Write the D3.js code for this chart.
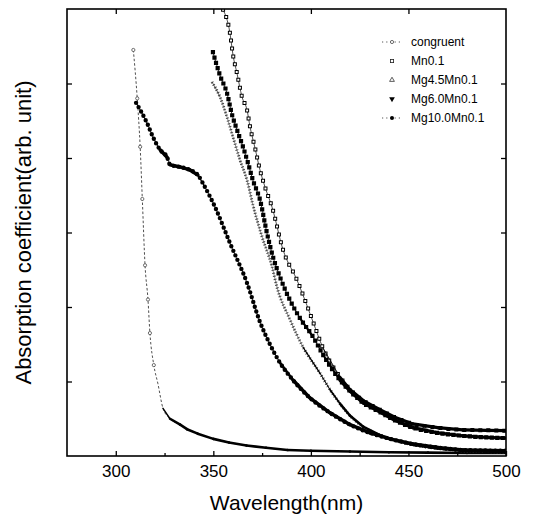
<!DOCTYPE html>
<html>
<head>
<meta charset="utf-8">
<script src="https://cdn.jsdelivr.net/npm/d3@7/dist/d3.min.js"></script>
<style>
  body { margin: 0; background: #fff; }
  svg { display: block; }
  text { font-family: "Liberation Sans", Arial, Helvetica, sans-serif; fill: #000; }
</style>
</head>
<body>
<svg id="chart" width="533" height="516"></svg>
<script>
// Absorption spectra: [wavelength (nm), absorption coefficient (arb. unit)]
const congruent = [
  [309, 5.45], [311, 4.80], [312.5, 4.15], [313.6, 3.45], [315, 2.56], [316.5, 2.10],
  [317.5, 1.65], [319.5, 1.22], [321.6, 0.97], [324.2, 0.64], [327.8, 0.50], [333, 0.42],
  [336.5, 0.36], [342, 0.30], [350, 0.23], [358, 0.18], [367, 0.14], [377, 0.11],
  [388, 0.08], [400, 0.07], [420, 0.06], [440, 0.05], [460, 0.045], [480, 0.04], [500, 0.04]
];
const mn01 = [
  [355.0, 5.99], [358.5, 5.68], [360.1, 5.38], [362.1, 5.14], [364.7, 4.82], [367.3, 4.64],
  [368.8, 4.42], [371.4, 4.13], [373.9, 3.84], [376.5, 3.61], [380.1, 3.34], [385.7, 2.77],
  [392.9, 2.36], [398.0, 2.02], [401.1, 1.80], [406.2, 1.45], [414.9, 1.06], [420.1, 0.89],
  [427, 0.74], [435.4, 0.62], [443, 0.52], [452.3, 0.43], [465, 0.38], [477.9, 0.35],
  [490, 0.345], [500, 0.34]
];
const mg45mn01 = [
  [349.3, 5.02], [353.4, 4.82], [357.0, 4.55], [360.1, 4.28], [363.7, 3.97], [367.3, 3.70],
  [370.3, 3.37], [375.0, 2.94], [380.1, 2.54], [382.6, 2.27], [389.3, 1.83], [396.0, 1.46],
  [404.7, 1.11], [409.8, 0.89], [415, 0.70], [420.1, 0.54], [427, 0.39], [435.4, 0.28],
  [443, 0.21], [452.3, 0.15], [465, 0.10], [477.9, 0.07], [490, 0.06], [500, 0.05]
];
const mg60mn01 = [
  [349.8, 5.42], [353.4, 5.11], [357.0, 4.87], [359.6, 4.58], [362.1, 4.38], [365.2, 4.15],
  [367.8, 3.93], [370.3, 3.70], [373.9, 3.44], [377.5, 2.99], [380.6, 2.67], [384.2, 2.40],
  [389.3, 2.09], [394.4, 1.85], [401.1, 1.60], [406.2, 1.36], [414.9, 1.02], [420.1, 0.87],
  [427, 0.71], [435.4, 0.59], [443, 0.48], [452.3, 0.38], [465, 0.31], [477.9, 0.27],
  [490, 0.25], [500, 0.24]
];
const mg100mn01 = [
  [310.4, 4.74], [316.0, 4.47], [319.1, 4.28], [322.7, 4.11], [326.3, 4.01], [327.8, 3.91],
  [332.9, 3.88], [338.0, 3.84], [342.1, 3.77], [345.7, 3.61], [350.9, 3.34], [358.5, 2.86],
  [367.3, 2.32], [373.9, 1.80], [379.0, 1.50], [384.2, 1.25], [390.8, 1.02], [399.5, 0.78],
  [409.8, 0.58], [420.1, 0.42], [430.3, 0.31], [440.6, 0.23], [452.3, 0.16], [466.2, 0.11],
  [477.9, 0.08], [500, 0.07]
];

const seriesNames = ["congruent", "Mn0.1", "Mg4.5Mn0.1", "Mg6.0Mn0.1", "Mg10.0Mn0.1"];
const seriesData = [congruent, mn01, mg45mn01, mg60mn01, mg100mn01];

const xTicks = [300, 350, 400, 450, 500];
const xMinorTicks = [325, 375, 425, 475];
const yTicks = [1, 2, 3, 4, 5];

// Drawing styles, one per series (same order as seriesNames)
const styles = [
  { kind: "circleOpen", base: 0.8, baseDash: "2.5 2", solid: 2.6 },
  { kind: "squareOpen", base: 0.8, solid: 3.3 },
  { kind: "triOpen", base: 0.5, solid: 2.6 },
  { kind: "triFilled", base: 0.9, solid: 3.4 },
  { kind: "dotFilled", base: 0.9, solid: 3.5 }
];

const svg = d3.select("#chart");
const x = d3.scaleLinear().domain([275, 500]).range([67, 506]);
const y = d3.scaleLinear().domain([0, 6]).range([456, 9]);

svg.append("defs").append("clipPath").attr("id", "plot-clip")
  .append("rect")
  .attr("x", x.range()[0]).attr("y", y.range()[1])
  .attr("width", x.range()[1] - x.range()[0])
  .attr("height", y.range()[0] - y.range()[1]);

const plot = svg.append("g").attr("clip-path", "url(#plot-clip)");
const line = d3.line().x(d => x(d[0])).y(d => y(d[1])).curve(d3.curveMonotoneX);

seriesData.forEach((data, i) => {
  const st = styles[i];
  const g = plot.append("g").attr("class", "series");
  const pts = data.map(d => [x(d[0]), y(d[1])]);

  // Thin connecting line
  g.append("path").datum(data).attr("d", line)
    .attr("fill", "none").attr("stroke", "#222")
    .attr("stroke-width", st.base)
    .attr("stroke-dasharray", st.baseDash || null);

  // Marker chains along the curve
  if (st.kind === "squareOpen") {
    g.append("path").datum(data).attr("d", line).attr("fill", "none")
      .attr("stroke", "#000").attr("stroke-width", 4)
      .attr("stroke-linecap", "square").attr("stroke-dasharray", "0 8");
    g.append("path").datum(data).attr("d", line).attr("fill", "none")
      .attr("stroke", "#fff").attr("stroke-width", 2)
      .attr("stroke-linecap", "square").attr("stroke-dasharray", "0 8");
  } else if (st.kind === "triOpen") {
    g.append("path").datum(data).attr("d", line).attr("fill", "none")
      .attr("stroke", "#444").attr("stroke-width", 3)
      .attr("stroke-dasharray", "1 2");
  } else if (st.kind === "triFilled") {
    g.append("path").datum(data).attr("d", line).attr("fill", "none")
      .attr("stroke", "#000").attr("stroke-width", 4.2)
      .attr("stroke-linecap", "square").attr("stroke-dasharray", "0 5.5");
  } else if (st.kind === "dotFilled") {
    g.append("path").datum(data).attr("d", line).attr("fill", "none")
      .attr("stroke", "#000").attr("stroke-width", 4.4)
      .attr("stroke-linecap", "round").attr("stroke-dasharray", "0 5");
  } else if (st.kind === "circleOpen") {
    g.selectAll("circle").data(data.filter(d => d[1] > 1)).join("circle")
      .attr("cx", d => x(d[0])).attr("cy", d => y(d[1])).attr("r", 1.6)
      .attr("fill", "#fff").attr("stroke", "#333").attr("stroke-width", 0.7);
  }

  // Where the spectrum flattens the closely spaced markers merge into a solid band
  for (let k = 0; k < pts.length - 1; k++) {
    const dx = pts[k + 1][0] - pts[k][0], dy = pts[k + 1][1] - pts[k][1];
    const c = dx / Math.hypot(dx, dy);
    const w = st.solid * Math.max(0, Math.min(1, (c - 0.45) / 0.2));
    if (w > 0.2) {
      g.append("line")
        .attr("x1", pts[k][0]).attr("y1", pts[k][1])
        .attr("x2", pts[k + 1][0]).attr("y2", pts[k + 1][1])
        .attr("stroke", "#000").attr("stroke-width", w)
        .attr("stroke-linecap", "round");
    }
  }
});

// Axes: ticks point into the plot on all four sides
const bottom = svg.append("g").attr("transform", `translate(0,${y.range()[0]})`)
  .call(d3.axisBottom(x).tickValues(xTicks).tickSize(-5).tickPadding(9).tickFormat(d3.format("d")));
bottom.selectAll("text").attr("font-size", 17);
svg.append("g").attr("transform", `translate(0,${y.range()[0]})`)
  .call(d3.axisBottom(x).tickValues(xMinorTicks).tickSize(-3).tickFormat(""));
svg.append("g").attr("transform", `translate(0,${y.range()[1]})`)
  .call(d3.axisTop(x).tickValues(xTicks.slice(0, 4)).tickSize(-5).tickFormat(""));
svg.append("g").attr("transform", `translate(${x.range()[0]},0)`)
  .call(d3.axisLeft(y).tickValues(yTicks).tickSize(-5).tickFormat(""));
svg.append("g").attr("transform", `translate(${x.range()[1]},0)`)
  .call(d3.axisRight(y).tickValues(yTicks).tickSize(-5).tickFormat(""));
svg.selectAll(".domain").remove();
svg.selectAll(".tick line").attr("stroke", "#000").attr("stroke-width", 1.3);

svg.append("rect")
  .attr("x", x.range()[0]).attr("y", y.range()[1])
  .attr("width", x.range()[1] - x.range()[0])
  .attr("height", y.range()[0] - y.range()[1])
  .attr("fill", "none").attr("stroke", "#000").attr("stroke-width", 1.6);

// Axis titles
svg.append("text")
  .attr("x", (x.range()[0] + x.range()[1]) / 2).attr("y", 510)
  .attr("text-anchor", "middle").attr("font-size", 21)
  .text("Wavelength(nm)");
svg.append("text")
  .attr("transform", `translate(31,${(y.range()[0] + y.range()[1]) / 2}) rotate(-90)`)
  .attr("text-anchor", "middle").attr("font-size", 22)
  .text("Absorption coefficient(arb. unit)");

// Legend
const legend = svg.append("g").attr("transform", "translate(392,42)");
seriesNames.forEach((name, i) => {
  const row = legend.append("g").attr("transform", `translate(0,${i * 19})`);
  const kind = styles[i].kind;
  if (kind === "circleOpen" || kind === "dotFilled") {
    row.append("line").attr("x1", -10).attr("x2", 10)
      .attr("stroke", "#444").attr("stroke-width", 0.9).attr("stroke-dasharray", "1.2 3");
  }
  const sym = d3.symbol();
  if (kind === "circleOpen") {
    row.append("circle").attr("r", 1.6).attr("fill", "#fff").attr("stroke", "#333").attr("stroke-width", 0.7);
  } else if (kind === "squareOpen") {
    row.append("rect").attr("x", -1.6).attr("y", -1.6).attr("width", 3.2).attr("height", 3.2)
      .attr("fill", "#fff").attr("stroke", "#222").attr("stroke-width", 0.8);
  } else if (kind === "triOpen") {
    row.append("path").attr("d", sym.type(d3.symbolTriangle).size(10)())
      .attr("fill", "#fff").attr("stroke", "#333").attr("stroke-width", 0.8);
  } else if (kind === "triFilled") {
    row.append("path").attr("d", sym.type(d3.symbolTriangle).size(14)())
      .attr("transform", "rotate(180)").attr("fill", "#000");
  } else {
    row.append("circle").attr("r", 2).attr("fill", "#000");
  }
  row.append("text").attr("x", 19).attr("dy", "0.35em")
    .attr("font-size", 12).text(name);
});
</script>
</body>
</html>
